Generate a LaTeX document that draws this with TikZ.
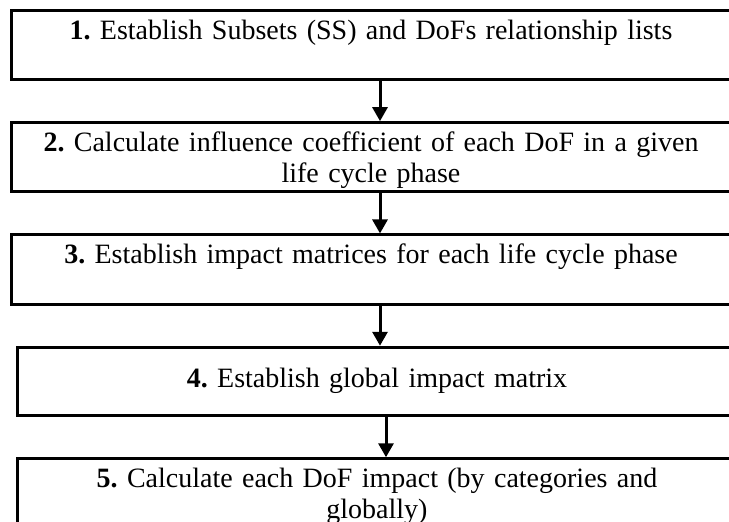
\documentclass[tikz,border=0pt]{standalone}
\usepackage{fontspec}
\setmainfont{Liberation Serif}
\usetikzlibrary{positioning,arrows.meta}

\newcommand{\topline}{\rule{0pt}{29pt}}

\tikzset{
	stepbox/.style={draw, line width=3pt, minimum width=720pt, minimum height=68.5pt,
		inner sep=0pt, text width=700pt, align=center,
		font=\fontsize{28}{31}\selectfont\frenchspacing},
	steparrow/.style={line width=3pt, -{Triangle[length=14pt,width=15pt]}}
}

\begin{document}
\begin{tikzpicture}[x=1pt, y=-1pt, node distance=40pt]
	\useasboundingbox (0,0) rectangle (729,522);
	\clip (0,0) rectangle (729,522);

	\node(s1) [stepbox] at (371,45) {\topline\textbf{1.} Establish Subsets (SS) and DoFs relationship lists\\ \strut};
	\node(s2) [stepbox, below=of s1] {\topline\textbf{2.} Calculate influence coefficient of each DoF in a given\\ life cycle phase\strut};
	\node(s3) [stepbox, below=of s2] {\topline\textbf{3.} Establish impact matrices for each life cycle phase\\ \strut};
	\node(s4) [stepbox, below=of s3, xshift=6pt] {\strut\textbf{4.} Establish global impact matrix};
	\node(s5) [stepbox, below=of s4] {\topline\textbf{5.} Calculate each DoF impact (by categories and\\ globally)\strut};

	\draw[steparrow] ([xshift=9pt]s1.south) -- ([xshift=9pt]s2.north);
	\draw[steparrow] ([xshift=9pt]s2.south) -- ([xshift=9pt]s3.north);
	\draw[steparrow] ([xshift=9pt]s3.south) -- ([xshift=3pt]s4.north);
	\draw[steparrow] ([xshift=9pt]s4.south) -- ([xshift=9pt]s5.north);
\end{tikzpicture}
\end{document}
